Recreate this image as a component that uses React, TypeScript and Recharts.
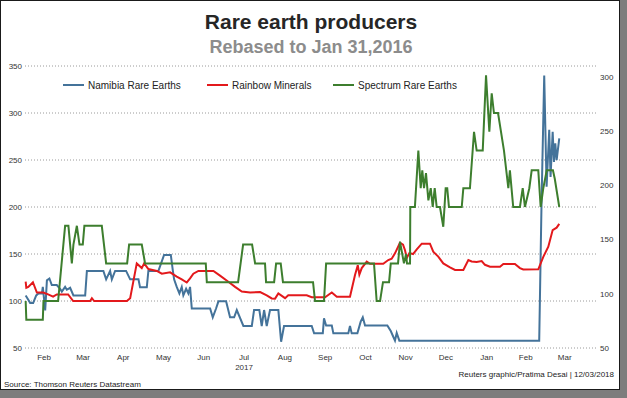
import React from 'react';
import { LineChart, Line, XAxis, YAxis, CartesianGrid } from 'recharts';

const FONT = '"Liberation Sans", Arial, Helvetica, sans-serif';

// x values are days counted from 1 Feb 2017
const monthLabels = ['Feb', 'Mar', 'Apr', 'May', 'Jun', 'Jul', 'Aug', 'Sep', 'Oct', 'Nov', 'Dec', 'Jan', 'Feb', 'Mar'];
const monthTickDays = [14, 43.5, 74, 104.5, 135, 165.5, 196.5, 227, 257.5, 288, 318.5, 349.5, 379, 408.5];
const yearLabel = '2017';
const yearLabelMonthIndex = 5;

const leftTicks = [50, 100, 150, 200, 250, 300, 350];
const rightTicks = [50, 100, 150, 200, 250, 300];

const seriesNames = ['Namibia Rare Earths', 'Rainbow Minerals', 'Spectrum Rare Earths'];
const seriesColors = ['#44739a', '#e3191c', '#3d7e2e'];
const seriesAxis = ['right', 'left', 'left'];

// Namibia Rare Earths, read on the right-hand axis
const namibia: [number, number][] = [
  [0, 98.5], [2.1, 94.2], [3.4, 91.6], [5.7, 91.6], [8, 98.5], [9.7, 100.3], [12.3, 100.3], [13, 106.3],
  [14.8, 84.7], [16.1, 112.4], [18, 114.1], [19.8, 108.1], [23.6, 108.1], [26.1, 104.6], [27.4, 102],
  [29.9, 106.3], [31.2, 103.7], [33.7, 105.5], [36.2, 98.5], [45.1, 98.5], [46.4, 121.1], [58.9, 121.1],
  [61, 113.3], [64, 121.1], [65.3, 113.3], [67.8, 121.1], [76.1, 121.1], [79.2, 113.3], [85.5, 113.3],
  [86.7, 105.9], [91.8, 105.9], [93, 121.1], [100.6, 121.1], [104.9, 135.8], [110, 135.8], [111.5, 121.9],
  [112.5, 113.3], [114.5, 106.3], [116.5, 100.3], [118.3, 106.3], [119.5, 98.5], [121.6, 104.6],
  [123.3, 100.3], [124.6, 106.3], [125.9, 86.4], [139.8, 86.4], [141.8, 78.3], [144.3, 86.4], [146.1, 93],
  [151.9, 93], [154.9, 78.3], [158, 78.3], [160, 85], [165, 70.3], [171.4, 70.3], [173.1, 85], [177.1, 85],
  [178.9, 70.3], [180.7, 85], [182.7, 70.3], [185.2, 85], [191.5, 85], [193.6, 55.8], [195.8, 70.3],
  [216.8, 70.3], [218.6, 63.5], [225.2, 63.5], [226.1, 77.3], [227.7, 70.8], [232, 70.8], [233.2, 63.5],
  [244.5, 63.5], [245.8, 70.3], [247.1, 63.5], [251.4, 63.5], [253.9, 74.3], [255.5, 78.3], [257.2, 70.8],
  [274.1, 70.8], [276.7, 65.6], [278.6, 60.4], [279.9, 56.8], [281.2, 63.9], [283.2, 56.8], [389.2, 56.8],
  [391, 186.1], [393, 301.3], [394.8, 198.7], [396.8, 251.1], [397.8, 207.7], [399.4, 249.3], [400.4, 221.6],
  [401.4, 238.7], [402.4, 223.3], [404.4, 243.3],
];

const rainbow: [number, number][] = [
  [0, 120.5], [0.5, 114], [2, 115], [5.5, 120], [8.5, 109], [13.3, 109], [17, 107], [20.8, 104.6],
  [23.6, 107], [32.2, 107], [36, 100], [48.9, 100], [50.2, 103], [51.9, 100], [76.7, 100], [79.2, 103],
  [84.2, 140], [88, 135], [89.8, 140], [93, 134], [99.4, 132], [103.2, 129], [109.5, 130.5], [114.5, 126],
  [118.3, 123], [122.1, 119.7], [124.6, 124], [127.1, 129], [130.9, 132], [142.3, 132], [147.3, 127],
  [153.6, 120.5], [158.7, 115], [163.8, 110], [170.1, 109], [177.7, 109.5], [182.7, 106], [186.5, 102.7],
  [189, 102.5], [191.5, 108], [196.6, 103], [199, 106], [213, 106], [216.8, 104], [226.9, 104], [232, 109],
  [235.8, 104.5], [245.8, 104.5], [249.6, 127.7], [251.7, 138], [252.9, 128], [254.7, 135], [258.5, 141.8],
  [261, 139.5], [271, 139.5], [274.8, 143.6], [277.4, 145], [279.9, 150.7], [283.7, 162], [286, 160],
  [287.5, 154], [288.8, 145.7], [290.8, 151], [293.6, 150], [296.4, 155], [300.2, 161], [306.4, 161],
  [308.9, 152.5], [312.7, 147.3], [316.5, 140], [321.6, 135.8], [325.4, 133], [331.7, 133], [335.5, 143.6],
  [338, 142], [341.8, 141.5], [345.6, 142.5], [348.1, 138.5], [351.9, 136.5], [359.5, 136.5], [362, 139.4],
  [370.8, 139.4], [374.6, 135], [377.1, 133.5], [388.5, 133.7], [392.3, 147], [396.1, 157.8], [399.4, 175.5],
  [402.4, 178], [404.4, 182],
];

const spectrum: [number, number][] = [
  [0, 100], [0.5, 80], [13, 80], [13.5, 100], [24.6, 100], [29.9, 180], [32.4, 180], [35, 140], [36.2, 160],
  [38.8, 180], [40.8, 160], [43.3, 160], [44.5, 180], [57.7, 180], [61, 140], [76.9, 140], [78.4, 160],
  [88, 160], [90.5, 140], [136.5, 140], [137.3, 120], [161, 120], [164.8, 160], [171.6, 160], [173.9, 140],
  [181.4, 140], [182.2, 120], [188.3, 120], [189.8, 140], [193.3, 140], [195, 120], [217.8, 120], [219.3, 100],
  [226.1, 100], [227.7, 140], [264, 140], [266, 100], [268.6, 100], [270.8, 120], [275.4, 120], [276.7, 140],
  [282.2, 140], [283.7, 163], [286.7, 140], [288.3, 150], [289, 140], [291.3, 140], [291.5, 200], [295, 200],
  [297.6, 260], [299.4, 220], [300.6, 239], [301.9, 220], [303.4, 236], [305.2, 207], [307, 220], [308.5, 200],
  [310, 220], [311.5, 200], [314, 200], [316.5, 179], [318.3, 220], [319.5, 220], [320.8, 200], [330.5, 200],
  [331.7, 220], [336.7, 220], [339.8, 280], [341.8, 260], [346.4, 260], [348.9, 340], [351.4, 280],
  [353.2, 321], [354.9, 300], [358, 300], [362.5, 260], [365.8, 220], [367, 239], [369.5, 200], [374.6, 200],
  [376.7, 220], [378.4, 200], [381.7, 220], [383.5, 239], [388.5, 239], [390.3, 200], [392.3, 220],
  [394.9, 239], [399.6, 239], [401, 230], [404.4, 200],
];

const toRows = (pts: [number, number][]) => pts.map(([day, value]) => ({ day, value }));
const seriesData = [toRows(namibia), toRows(rainbow), toRows(spectrum)];

function MonthTick(props: any) {
  const { x, y, payload } = props;
  const i = monthTickDays.indexOf(payload.value);
  return (
    <g>
      <text x={x} y={y} dy="0.71em" textAnchor="middle" fontSize={8} fill="#333" fontFamily={FONT}>
        {monthLabels[i]}
      </text>
      {i === yearLabelMonthIndex && (
        <text x={x} y={y + 10} dy="0.71em" textAnchor="middle" fontSize={8} fill="#333" fontFamily={FONT}>
          {yearLabel}
        </text>
      )}
    </g>
  );
}

const legendPos = [63, 207, 333];

export default function App() {
  return (
    <div style={{ position: 'absolute', left: 0, top: 0, width: 627, height: 398, background: '#7d7d7d', fontFamily: FONT }}>
      <div style={{ position: 'absolute', left: 0, top: 0, width: 620, height: 390, background: '#fff', border: '1px solid #1a1a1a', boxSizing: 'border-box' }} />
      <div style={{ position: 'absolute', left: 0, top: 11, width: 622, textAlign: 'center', fontSize: 21, lineHeight: '21px', fontWeight: 'bold', color: '#262626' }}>
        Rare earth producers
      </div>
      <div style={{ position: 'absolute', left: 0, top: 38, width: 622, textAlign: 'center', fontSize: 18, lineHeight: '18px', fontWeight: 'bold', color: '#8c8c8c' }}>
        Rebased to Jan 31,2016
      </div>
      <div style={{ position: 'absolute', left: 0, top: 0 }}>
        <LineChart width={627} height={398} margin={{ top: 66, right: 0, bottom: 0, left: 0 }}>
          <CartesianGrid yAxisId="left" vertical={false} stroke="#9a9a9a" strokeDasharray="1 2" />
          <XAxis
            dataKey="day"
            type="number"
            domain={[-0.5, 433]}
            ticks={monthTickDays}
            height={50}
            axisLine={false}
            tickLine={false}
            tickSize={0}
            tickMargin={6}
            tick={<MonthTick />}
            interval={0}
            allowDuplicatedCategory={false}
          />
          <YAxis
            yAxisId="left"
            orientation="left"
            type="number"
            domain={[50, 350]}
            ticks={leftTicks}
            width={25}
            axisLine={false}
            tickLine={false}
            tickSize={0}
            tickMargin={3}
            tick={{ fontSize: 8, fill: '#333', fontFamily: FONT }}
            interval={0}
          />
          <YAxis
            yAxisId="right"
            orientation="right"
            type="number"
            domain={[50, 310]}
            allowDataOverflow
            ticks={rightTicks}
            width={30}
            axisLine={false}
            tickLine={false}
            tickSize={0}
            tickMargin={3}
            tick={{ fontSize: 8, fill: '#333', fontFamily: FONT }}
            interval={0}
          />
          {seriesData.map((rows, i) => (
            <Line
              key={seriesNames[i]}
              yAxisId={seriesAxis[i]}
              data={rows}
              dataKey="value"
              name={seriesNames[i]}
              type="linear"
              stroke={seriesColors[i]}
              strokeWidth={2}
              dot={false}
              activeDot={false}
              isAnimationActive={false}
            />
          ))}
        </LineChart>
      </div>
      {seriesNames.map((name, i) => (
        <div key={name} style={{ position: 'absolute', left: legendPos[i], top: 79, height: 12, display: 'flex', alignItems: 'center', fontSize: 10, color: '#222', whiteSpace: 'nowrap' }}>
          <span style={{ display: 'inline-block', width: 21, height: 2, background: seriesColors[i], marginRight: 4 }} />
          {name}
        </div>
      ))}
      <div style={{ position: 'absolute', right: 13, top: 371, fontSize: 8, lineHeight: '8px', color: '#222', whiteSpace: 'nowrap' }}>
        Reuters graphic/Pratima Desai | 12/03/2018
      </div>
      <div style={{ position: 'absolute', left: 4, top: 381, fontSize: 8, lineHeight: '8px', color: '#222', whiteSpace: 'nowrap' }}>
        Source: Thomson Reuters Datastream
      </div>
    </div>
  );
}
